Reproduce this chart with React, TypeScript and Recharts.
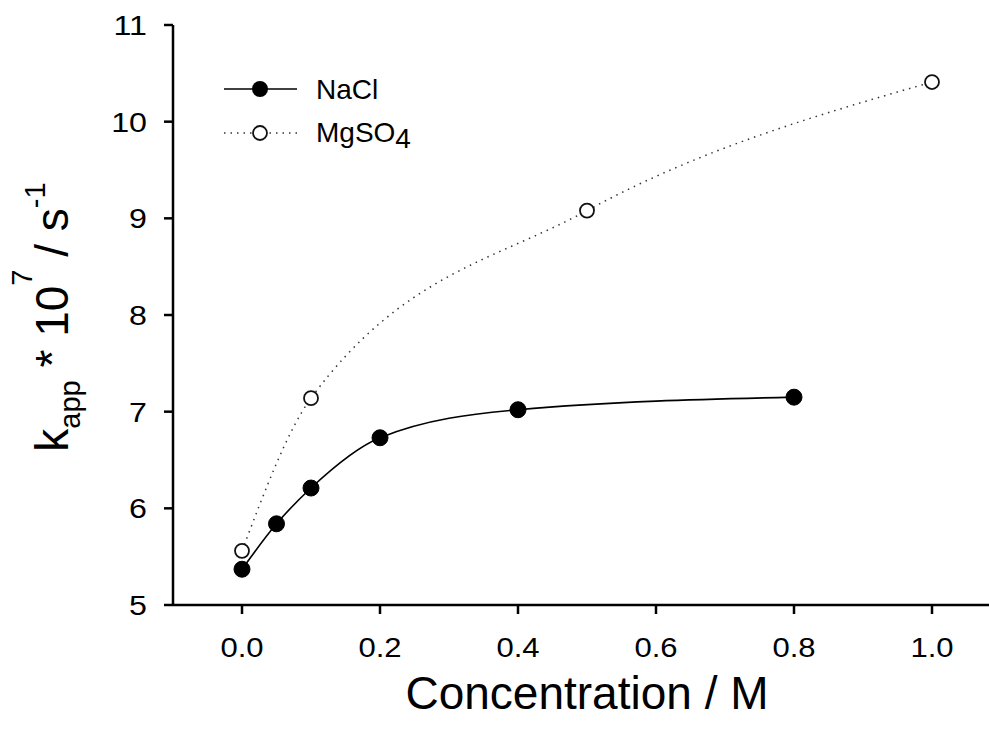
import { LineChart, Line, XAxis, YAxis } from "recharts";

// rate constants (x 10^7 s^-1) vs salt concentration (M)
const naclConc = [0, 0.05, 0.1, 0.2, 0.4, 0.8];
const naclRate = [5.37, 5.84, 6.21, 6.73, 7.02, 7.15];

const mgso4Conc = [0, 0.1, 0.5, 1.0];
const mgso4Rate = [5.56, 7.14, 9.08, 10.41];

const xTicks = [0, 0.2, 0.4, 0.6, 0.8, 1.0];
const yTicks = [5, 6, 7, 8, 9, 10, 11];

const naclData = naclConc.map((x, i) => ({ x, y: naclRate[i] }));
const mgso4Data = mgso4Conc.map((x, i) => ({ x, y: mgso4Rate[i] }));

const FONT = "'Liberation Sans', Arial, Helvetica, sans-serif";

const FilledDot = (props: any) => {
    const { cx, cy } = props;
    return <circle cx={cx} cy={cy} r={8} fill="#000" stroke="#000" strokeWidth={1} />;
};

const OpenDot = (props: any) => {
    const { cx, cy } = props;
    return <circle cx={cx} cy={cy} r={7} fill="#fff" stroke="#111" strokeWidth={1.8} />;
};

// tick numbers are slightly widened
const XTick = (props: any) => {
    const { x, y, payload } = props;
    return (
        <text
            transform={`translate(${x}, ${y + 19}) scale(1.15, 1)`}
            textAnchor="middle"
            fontFamily={FONT}
            fontSize={27}
            fill="#000"
        >
            {Number(payload.value).toFixed(1)}
        </text>
    );
};

const YTick = (props: any) => {
    const { x, y, payload } = props;
    return (
        <text
            transform={`translate(${x}, ${y + 10}) scale(1.15, 1)`}
            textAnchor="end"
            fontFamily={FONT}
            fontSize={28}
            fill="#000"
        >
            {payload.value}
        </text>
    );
};

function YLabel(props: any) {
    const vb = props.viewBox || { x: 0, y: 25, width: 173, height: 580 };
    const x = vb.x + 68;
    const y = vb.y + vb.height / 2 + 2;
    return (
        <text
            x={x}
            y={y}
            transform={`rotate(-90, ${x}, ${y})`}
            textAnchor="middle"
            fontFamily={FONT}
            fontSize={46}
            fill="#000"
        >
            <tspan>k</tspan>
            <tspan fontSize={29} dy={12}>app</tspan>
            <tspan dy={-12}> * 10</tspan>
            <tspan fontSize={29} dy={-36}>7</tspan>
            <tspan dy={36}> / s</tspan>
            <tspan fontSize={29} dy={-23}>-1</tspan>
        </text>
    );
}

// legend drawn as an overlay in the upper-left of the plot
function LegendBox() {
    return (
        <svg
            width={260}
            height={90}
            style={{ position: "absolute", left: 215, top: 70, display: "block" }}
        >
            <line x1={9} y1={19} x2={82} y2={19} stroke="#000" strokeWidth={1.5} />
            <circle cx={45} cy={19} r={8} fill="#000" />
            <text x={101} y={29} fontFamily={FONT} fontSize={28} fill="#000">NaCl</text>
            <line x1={9} y1={63} x2={82} y2={63} stroke="#333" strokeWidth={1.5} strokeDasharray="1.5 5" />
            <circle cx={45} cy={63} r={7} fill="#fff" stroke="#111" strokeWidth={1.8} />
            <text x={101} y={72} fontFamily={FONT} fontSize={28} fill="#000">
                MgSO<tspan dy={6}>4</tspan>
            </text>
        </svg>
    );
}

export default function App() {
    return (
        <div
            style={{
                position: "fixed",
                left: 0,
                top: 0,
                width: 989,
                height: 729,
                overflow: "hidden",
                background: "#fff",
            }}
        >
            <LineChart width={1012} height={729} margin={{ top: 25, right: 11, bottom: 0, left: 0 }}>
                <XAxis
                    type="number"
                    dataKey="x"
                    domain={[-0.1, 1.1]}
                    ticks={xTicks}
                    allowDataOverflow
                    height={124}
                    axisLine={{ stroke: "#000", strokeWidth: 2.5 }}
                    tickLine={{ stroke: "#000", strokeWidth: 2.5 }}
                    tickSize={9}
                    tickMargin={24}
                    tick={<XTick />}
                    label={{
                        value: "Concentration / M",
                        position: "insideBottom",
                        offset: 20,
                        fill: "#000",
                        fontSize: 46,
                        fontFamily: FONT,
                    }}
                />
                <YAxis
                    type="number"
                    dataKey="y"
                    domain={[5, 11]}
                    ticks={yTicks}
                    width={173}
                    axisLine={{ stroke: "#000", strokeWidth: 2.5 }}
                    tickLine={{ stroke: "#000", strokeWidth: 2.5 }}
                    tickSize={9}
                    tickMargin={17}
                    tick={<YTick />}
                    label={{ content: YLabel }}
                />
                <Line
                    data={mgso4Data}
                    dataKey="y"
                    name="MgSO4"
                    type="monotone"
                    stroke="#333"
                    strokeWidth={1.5}
                    strokeDasharray="1.5 5"
                    dot={<OpenDot />}
                    activeDot={false}
                    isAnimationActive={false}
                />
                <Line
                    data={naclData}
                    dataKey="y"
                    name="NaCl"
                    type="monotone"
                    stroke="#000"
                    strokeWidth={1.6}
                    dot={<FilledDot />}
                    activeDot={false}
                    isAnimationActive={false}
                />
            </LineChart>
            <LegendBox />
        </div>
    );
}
